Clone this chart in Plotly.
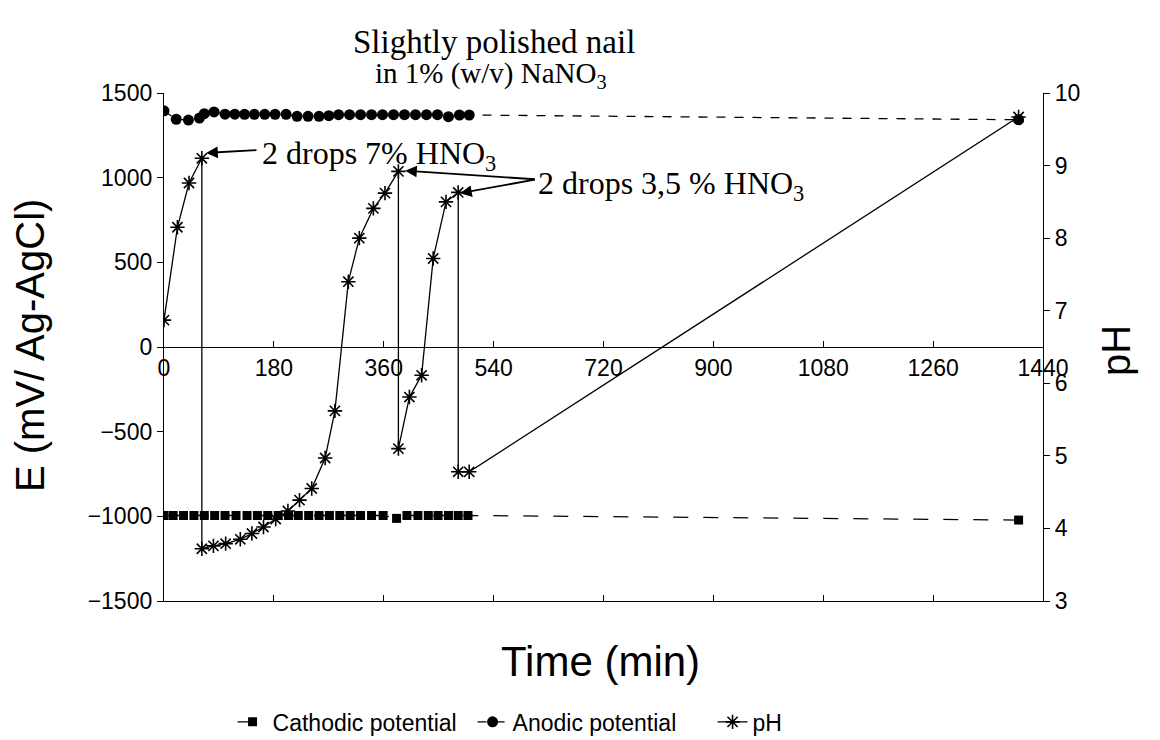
import plotly.graph_objects as go

# ---------------- data ----------------
cath_t = [0, 15, 32, 49, 66, 83, 100, 118, 136, 153, 170, 187, 204, 220, 237, 254, 271,
          288, 305, 322, 340, 359, 381, 398, 416, 433, 449, 466, 482, 498, 1400]
cath_E = [-995, -995, -995, -995, -995, -995, -995, -995, -995, -995, -995, -995, -995,
          -995, -995, -995, -995, -995, -995, -995, -995, -995, -1012, -995, -995, -995,
          -995, -995, -995, -995, -1022]

anod_t = [0, 20, 40, 58, 66, 82, 100, 116, 132, 148, 165, 182, 200, 218, 236, 254, 270,
          286, 304, 322, 340, 358, 376, 394, 412, 430, 448, 466, 484, 500, 1400]
anod_E = [1395, 1345, 1340, 1352, 1378, 1388, 1375, 1375, 1374, 1374, 1374, 1374, 1374,
          1362, 1362, 1362, 1366, 1372, 1372, 1372, 1372, 1372, 1372, 1372, 1372, 1372,
          1372, 1360, 1370, 1370, 1342]

ph_t = [0, 22, 41, 62, 62, 81, 101, 125, 144, 163, 183, 203, 222, 242, 264, 280, 302,
        320, 343, 362, 384, 384, 402, 422, 441, 462, 482, 482, 500, 1400]
ph_v = [6.87, 8.15, 8.76, 9.10, 3.72, 3.76, 3.79, 3.85, 3.93, 4.02, 4.13, 4.24, 4.39,
        4.55, 4.97, 5.62, 7.40, 8.00, 8.41, 8.62, 8.92, 5.10, 5.81, 6.11, 7.72, 8.50,
        8.63, 4.78, 4.78, 9.67]

x_ticks = [0, 180, 360, 540, 720, 900, 1080, 1260, 1440]
E_ticks = [-1500, -1000, -500, 0, 500, 1000, 1500]
ph_ticks = [3, 4, 5, 6, 7, 8, 9, 10]

SANS = "Liberation Sans, Arial, sans-serif"
SERIF = "Liberation Serif, Times New Roman, serif"

fig = go.Figure()
fig.add_trace(go.Scatter(x=cath_t, y=cath_E, name="Cathodic potential", mode="lines+markers",
                         line=dict(color="black", width=1.3, dash="longdash"),
                         marker=dict(symbol="square", size=9, color="black")))
fig.add_trace(go.Scatter(x=anod_t, y=anod_E, name="Anodic potential", mode="lines+markers",
                         line=dict(color="black", width=1.3, dash="dash"),
                         marker=dict(symbol="circle", size=11, color="black")))
fig.add_trace(go.Scatter(x=ph_t, y=ph_v, name="pH", mode="lines+markers", yaxis="y2",
                         line=dict(color="black", width=1.3),
                         marker=dict(symbol="asterisk-open", size=12,
                                     line=dict(color="black", width=1.6))))
# carrier trace so the zero-line time axis (x2) is drawn
fig.add_trace(go.Scatter(x=[x_ticks[0], x_ticks[-1]], y=[None, None], xaxis="x2",
                         mode="markers", showlegend=False, hoverinfo="skip"))

tickfont = dict(family=SANS, size=23, color="black")

fig.update_layout(
    width=1160, height=740,
    margin=dict(l=164, r=117, t=93, b=139, autoexpand=False),
    paper_bgcolor="white", plot_bgcolor="white",
    showlegend=True,
    legend=dict(orientation="h", x=0.078, xanchor="left", y=-0.238, yanchor="middle",
                font=dict(family=SANS, size=23, color="black"), itemwidth=30,
                entrywidth=195, bgcolor="rgba(0,0,0,0)"),
    xaxis=dict(range=[0, 1440], tickvals=x_ticks, showticklabels=False,
               showline=True, linecolor="black", linewidth=1.3, ticks="inside",
               ticklen=6, tickcolor="black", showgrid=False, zeroline=False,
               anchor="y"),
    xaxis2=dict(range=[0, 1440], tickvals=x_ticks, overlaying="x", anchor="free",
                position=0.5, side="bottom", showline=True, linecolor="black",
                linewidth=1.3, ticks="inside", ticklen=6, tickcolor="black",
                tickfont=tickfont, showgrid=False, zeroline=False),
    yaxis=dict(range=[-1500, 1500], tickvals=E_ticks, showline=True, linecolor="black",
               linewidth=1.3, ticks="outside", ticklen=6, tickcolor="black",
               tickfont=tickfont, showgrid=False, zeroline=False),
    yaxis2=dict(range=[3, 10], tickvals=ph_ticks, overlaying="y", side="right",
                showline=True, linecolor="black", linewidth=1.3, ticks="outside",
                ticklen=6, tickcolor="black", tickfont=tickfont, showgrid=False,
                zeroline=False),
)

ann = []
ann.append(dict(text="Slightly polished nail", x=0.3754, y=1.100, xref="paper", yref="paper",
                showarrow=False, font=dict(family=SERIF, size=33, color="black"),
                xanchor="center", yanchor="middle"))
ann.append(dict(text="in 1% (w/v) NaNO<sub>3</sub>", x=0.372, y=1.035, xref="paper",
                yref="paper", showarrow=False,
                font=dict(family=SERIF, size=29, color="black"),
                xanchor="center", yanchor="middle"))
ann.append(dict(text="Time (min)", x=0.497, y=-0.120, xref="paper", yref="paper",
                showarrow=False, font=dict(family=SANS, size=42, color="black"),
                xanchor="center", yanchor="middle"))
ann.append(dict(text="E (mV/ Ag-AgCl)", x=-0.1524, y=0.502, xref="paper", yref="paper",
                showarrow=False, textangle=-90,
                font=dict(family=SANS, size=40, color="black"),
                xanchor="center", yanchor="middle"))
ann.append(dict(text="pH", x=1.083, y=0.494, xref="paper", yref="paper",
                showarrow=False, textangle=-90,
                font=dict(family=SANS, size=40, color="black"),
                xanchor="center", yanchor="middle"))
# drop annotations
ann.append(dict(text="2 drops 7% HNO<sub>3</sub>", x=158, y=1128, xref="x", yref="y",
                showarrow=False, xanchor="left", yanchor="middle",
                font=dict(family=SERIF, size=32, color="black")))
ann.append(dict(text="2 drops 3,5 % HNO<sub>3</sub>", x=609, y=955, xref="x", yref="y",
                showarrow=False, xanchor="left", yanchor="middle",
                font=dict(family=SERIF, size=32, color="black")))
arrows = [((154, 1163), (69, 1146)), ((610, 990), (395, 1041)), ((610, 990), (485, 908))]
for (tx, ty), (hx, hy) in arrows:
    ann.append(dict(text="", x=hx, y=hy, ax=tx, ay=ty, xref="x", yref="y",
                    axref="x", ayref="y", showarrow=True, arrowhead=2, arrowsize=1.3,
                    arrowwidth=1.8, arrowcolor="black", standoff=0))
fig.update_layout(annotations=ann)

fig.write_html("out.html")
